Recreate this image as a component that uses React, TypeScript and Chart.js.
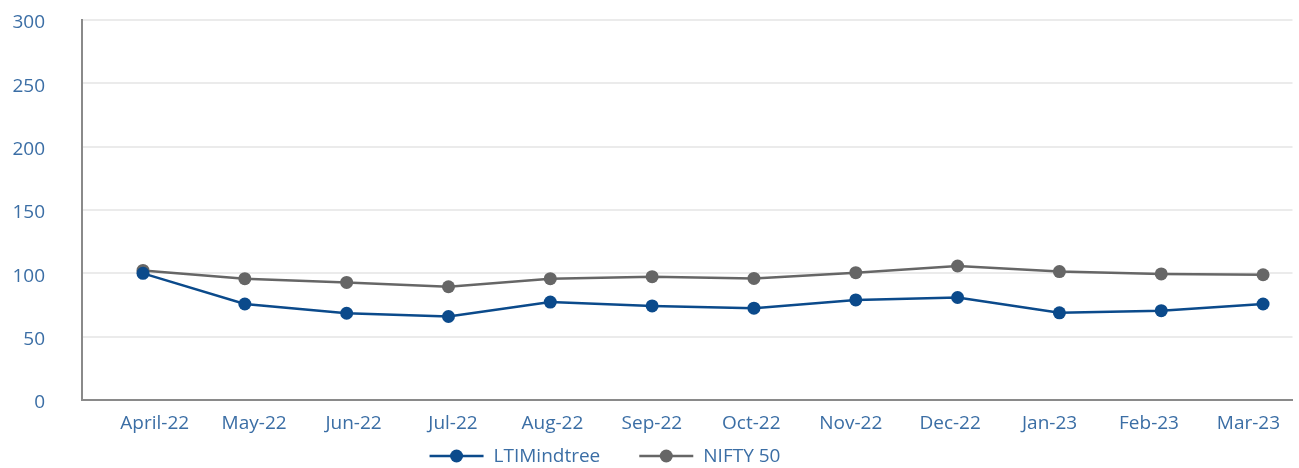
import React, { useEffect, useRef } from "react";
import { Chart, registerables } from "chart.js";

Chart.register(...registerables);

const categories = [
  "April-22", "May-22", "Jun-22", "Jul-22", "Aug-22", "Sep-22",
  "Oct-22", "Nov-22", "Dec-22", "Jan-23", "Feb-23", "Mar-23",
];
const ltimindtree = [100, 75.8, 68.5, 65.9, 77.3, 74.3, 72.5, 79, 80.9, 68.8, 70.5, 75.8];
const nifty50 = [102.3, 95.8, 92.8, 89.4, 95.8, 97.4, 96, 100.5, 105.8, 101.4, 99.5, 98.9];
const yTicks = [0, 50, 100, 150, 200, 250, 300];

const FONT = "'Open Sans', 'Noto Sans', sans-serif";
const FONT_SIZE = 19;
const TEXT_COLOR = "#3b6ea5";
const BLUE = "#0b4a8b";
const GRAY = "#666666";

const legendPlugin = {
  id: "lineLegend",
  afterDraw(chart: any) {
    const ctx = chart.ctx as CanvasRenderingContext2D;
    const items = chart.data.datasets.map((ds: any) => ({ text: ds.label, color: ds.borderColor }));
    ctx.save();
    ctx.font = `${FONT_SIZE}px ${FONT}`;
    const lineW = 54;
    const gap = 10;
    const itemGap = 39;
    const widths = items.map((it: any) => lineW + gap + ctx.measureText(it.text).width);
    const total = widths.reduce((a: number, b: number) => a + b, 0) + itemGap * (items.length - 1);
    let x = 605 - total / 2;
    const y = 456;
    items.forEach((it: any, i: number) => {
      ctx.strokeStyle = it.color;
      ctx.lineWidth = 2.5;
      ctx.beginPath();
      ctx.moveTo(x, y);
      ctx.lineTo(x + lineW, y);
      ctx.stroke();
      ctx.fillStyle = it.color;
      ctx.beginPath();
      ctx.arc(x + lineW / 2, y, 6.5, 0, Math.PI * 2);
      ctx.fill();
      ctx.fillStyle = TEXT_COLOR;
      ctx.textBaseline = "middle";
      ctx.textAlign = "left";
      ctx.fillText(it.text, x + lineW + gap, y + 1);
      x += widths[i] + itemGap;
    });
    ctx.restore();
  },
};

export default function App() {
  const ref = useRef<HTMLCanvasElement | null>(null);

  useEffect(() => {
    if (!ref.current) return;
    const chart = new Chart(ref.current, {
      type: "line",
      data: {
        datasets: [
          {
            label: "LTIMindtree",
            data: ltimindtree.map((v, i) => ({ x: i, y: v })),
            borderColor: BLUE,
            backgroundColor: BLUE,
            pointBackgroundColor: BLUE,
            pointBorderWidth: 0,
            pointRadius: 6.5,
            borderWidth: 2.5,
            tension: 0,
            xAxisID: "x",
          },
          {
            label: "NIFTY 50",
            data: nifty50.map((v, i) => ({ x: i, y: v })),
            borderColor: GRAY,
            backgroundColor: GRAY,
            pointBackgroundColor: GRAY,
            pointBorderWidth: 0,
            pointRadius: 6.5,
            borderWidth: 2.5,
            tension: 0,
            xAxisID: "x",
          },
        ],
      },
      options: {
        animation: false,
        responsive: false,
        maintainAspectRatio: false,
        layout: { padding: { top: 20, bottom: 28, right: 2, left: 0 } },
        plugins: {
          legend: { display: false },
          tooltip: { enabled: false },
        },
        scales: {
          x: {
            type: "linear",
            display: false,
            min: -0.599,
            max: 11.289,
          },
          x2: {
            type: "linear",
            position: "bottom",
            min: -0.731,
            max: 11.443,
            afterBuildTicks: (scale: any) => {
              scale.ticks = categories.map((_, i) => ({ value: i }));
            },
            afterFit: (scale: any) => {
              scale.height = 40;
              scale.paddingLeft = 0;
              scale.paddingRight = 0;
            },
            grid: { display: false, drawTicks: false },
            border: { display: true, color: "#8a8a8a", width: 2 },
            ticks: {
              autoSkip: false,
              maxRotation: 0,
              padding: 12,
              color: TEXT_COLOR,
              font: { family: FONT, size: FONT_SIZE },
              callback: (v: any) => categories[Math.round(Number(v))] ?? "",
            },
          },
          y: {
            type: "linear",
            min: 0,
            max: 300,
            afterBuildTicks: (scale: any) => {
              scale.ticks = yTicks.map((v) => ({ value: v }));
            },
            afterFit: (scale: any) => {
              scale.width = 82;
              scale.paddingTop = 10;
              scale.paddingBottom = 10;
            },
            grid: { color: "#ebebeb", lineWidth: 2, drawTicks: false },
            border: { display: true, color: "#8a8a8a", width: 2 },
            ticks: {
              padding: 37,
              labelOffset: 3,
              color: TEXT_COLOR,
              font: { family: FONT, size: FONT_SIZE },
            },
          },
        },
      },
      plugins: [legendPlugin],
    });
    return () => chart.destroy();
  }, []);

  return (
    <div style={{ position: "fixed", left: 0, top: 0, width: 1299, height: 468, background: "#fff" }}>
      <canvas ref={ref} width={1299} height={468} style={{ width: 1299, height: 468, display: "block" }} />
    </div>
  );
}
